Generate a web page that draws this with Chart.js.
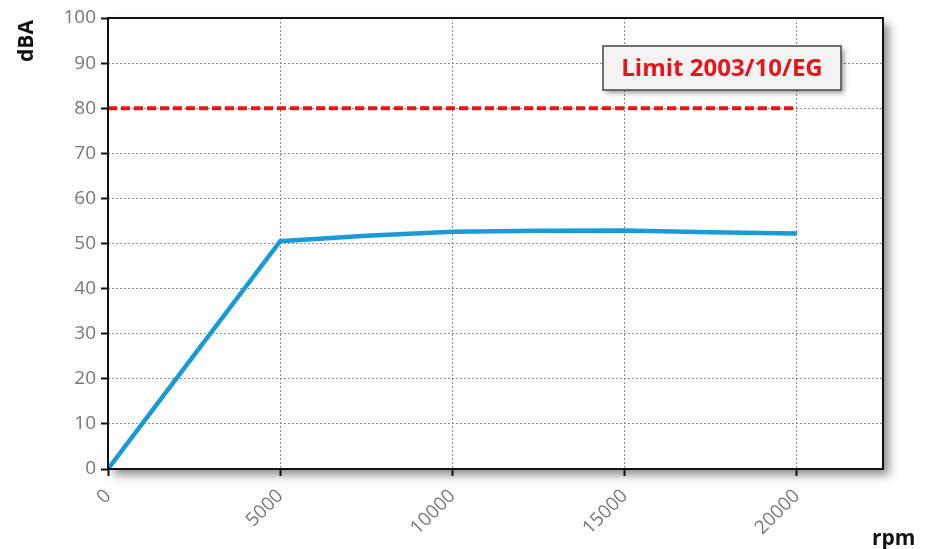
<!DOCTYPE html>
<html>
<head>
<meta charset="utf-8">
<script src="https://cdn.jsdelivr.net/npm/chart.js@4"></script>
<style>
  html, body { margin: 0; padding: 0; background: #fff; }
  #wrap { width: 938px; height: 549px; position: relative; }
</style>
</head>
<body>
<div id="wrap"><canvas id="c" width="938" height="549"></canvas></div>
<script>
(function () {
  // rpm vs dBA
  const rpm = [0, 5000, 7500, 10000, 12500, 15000, 17500, 20000];
  const dba = [0, 50.5, 51.7, 52.6, 52.8, 52.9, 52.5, 52.2];
  const limitRpm = [0, 20000];
  const limitDba = [80, 80];
  const xTicks = [0, 5000, 10000, 15000, 20000];
  const yTicks = [0, 10, 20, 30, 40, 50, 60, 70, 80, 90, 100];
  const limitLabel = 'Limit 2003/10/EG';

  const TICK_FONT = { family: 'Open Sans', size: 19 };

  // frame + shadow behind the plot, border on top, text labels
  const framePlugin = {
    id: 'frame',
    beforeDraw(chart) {
      const { ctx, chartArea: a } = chart;
      ctx.save();
      ctx.shadowColor = 'rgba(0,0,0,0.45)';
      ctx.shadowBlur = 9;
      ctx.shadowOffsetX = 6;
      ctx.shadowOffsetY = 6;
      ctx.fillStyle = '#fff';
      ctx.fillRect(a.left, a.top, a.right - a.left, a.bottom - a.top);
      ctx.restore();
    },
    afterDraw(chart) {
      const { ctx, chartArea: a } = chart;
      ctx.save();
      ctx.strokeStyle = '#111';
      ctx.lineWidth = 2;
      ctx.strokeRect(a.left, a.top, a.right - a.left, a.bottom - a.top);

      // limit label box
      const bx = 603, by = 46, bw = 238, bh = 44;
      ctx.save();
      ctx.shadowColor = 'rgba(0,0,0,0.4)';
      ctx.shadowBlur = 5;
      ctx.shadowOffsetX = 3;
      ctx.shadowOffsetY = 3;
      ctx.fillStyle = '#f3f3f3';
      ctx.fillRect(bx, by, bw, bh);
      ctx.restore();
      ctx.strokeStyle = '#444';
      ctx.lineWidth = 1.5;
      ctx.strokeRect(bx, by, bw, bh);
      ctx.fillStyle = '#e8141b';
      ctx.font = 'bold 24px "Open Sans"';
      ctx.textAlign = 'center';
      ctx.textBaseline = 'middle';
      ctx.fillText(limitLabel, bx + bw / 2, by + bh / 2 + 1);

      // axis titles
      ctx.fillStyle = '#111';
      ctx.font = 'bold 21px "Open Sans"';
      ctx.save();
      ctx.translate(27, 41);
      ctx.rotate(-Math.PI / 2);
      ctx.textAlign = 'center';
      ctx.textBaseline = 'middle';
      ctx.fillText('dBA', 0, 0);
      ctx.restore();
      ctx.textAlign = 'left';
      ctx.textBaseline = 'alphabetic';
      ctx.fillText('rpm', 872, 545);
      ctx.restore();
    }
  };

  new Chart(document.getElementById('c'), {
    type: 'line',
    data: {
      datasets: [
        {
          data: limitRpm.map((x, i) => ({ x, y: limitDba[i] })),
          borderColor: '#e8141b',
          borderWidth: 4,
          borderDash: [9, 4],
          pointRadius: 0,
          fill: false
        },
        {
          data: rpm.map((x, i) => ({ x, y: dba[i] })),
          borderColor: '#1a9bd7',
          borderWidth: 4.5,
          pointRadius: 0,
          tension: 0,
          fill: false
        }
      ]
    },
    options: {
      responsive: false,
      animation: false,
      events: [],
      layout: { padding: { top: 18, right: 55, left: 0, bottom: 0 } },
      plugins: { legend: { display: false }, tooltip: { enabled: false } },
      scales: {
        x: {
          type: 'linear',
          min: 0,
          max: 22500,
          afterBuildTicks: (s) => { s.ticks = xTicks.map(v => ({ value: v })); },
          afterFit: (s) => { s.height = 549 - 469; },
          ticks: {
            color: '#777',
            font: TICK_FONT,
            minRotation: 45,
            maxRotation: 45,
            padding: 9,
            callback: (v) => String(v)
          },
          grid: {
            color: '#8a8a8a',
            lineWidth: 1,
            tickLength: 7,
            tickColor: '#111',
            tickWidth: 2
          },
          border: { display: false, dash: [2, 2] }
        },
        y: {
          min: 0,
          max: 100,
          afterBuildTicks: (s) => { s.ticks = yTicks.map(v => ({ value: v })); },
          afterFit: (s) => { s.width = 108; },
          ticks: {
            color: '#777',
            font: TICK_FONT,
            padding: 5,
            callback: (v) => String(v)
          },
          grid: {
            color: '#8a8a8a',
            lineWidth: 1,
            tickLength: 7,
            tickColor: '#111',
            tickWidth: 2
          },
          border: { display: false, dash: [2, 2] }
        }
      }
    },
    plugins: [framePlugin]
  });
})();
</script>
</body>
</html>
